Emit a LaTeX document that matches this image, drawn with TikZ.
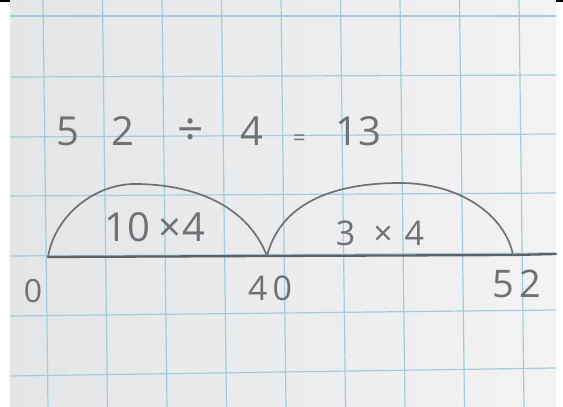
\documentclass[tikz,border=0pt]{standalone}
\usepackage{fontspec}
\setmainfont{Open Sans}
\definecolor{paperl}{RGB}{228,229,231}
\definecolor{paperr}{RGB}{243,243,244}
\definecolor{gridblue}{RGB}{160,205,220}
\definecolor{pencil}{RGB}{112,113,116}
\begin{document}
\begin{tikzpicture}[x=1pt, y=-1pt,
    gridline/.style={gridblue, line width=1.2pt},
    ink/.style={pencil, line width=1.7pt, line cap=round},
    numline/.style={pencil!85!black, line width=2.3pt, line cap=round},
    hand/.style={text=pencil, inner sep=0pt, font=\fontsize{#1}{#1}\selectfont},
    hand/.default=30]
  \useasboundingbox (0,0) rectangle (563,407);

  % paper and squares
  \fill[white] (0,0) rectangle (563,407);
  \shade[left color=paperl, right color=paperr] (10,0) rectangle (556,407);
  \fill[black] (0,0) rectangle (10,1.5);
  \fill[black] (556,0) rectangle (563,1.5);
  \foreach \k in {0,...,8}
    \draw[gridline] ({43+59.5*\k},0) -- ({48+59.5*\k},407);
  \foreach \yl/\yr in {16/16, 77/75, 137/134, 196/193, 256/253, 316/310, 376/368}
    \draw[gridline] (10,\yl) -- (556,\yr);

  % the sum
  \node[hand=40, anchor=base west] (sum) at (56,145)
    {5\hspace{32pt}2\hspace{44pt}{\fontsize{46}{46}\selectfont ÷}\hspace{36pt}4\hspace{30pt}{\fontsize{22}{22}\selectfont =}\hspace{30pt}13};

  % number line
  \coordinate (p0) at (48,257);
  \coordinate (p40) at (267,256);
  \coordinate (p52) at (513,255);
  \coordinate (lineend) at (556,254);
  \draw[numline] (p0) -- (p40) -- (p52) -- (lineend);

  % jumps
  \draw[ink] (p0) .. controls (55,215) and (95,184) .. (135,184)
    .. controls (185,184) and (245,200) .. (p40);
  \draw[ink] (p40) .. controls (280,205) and (330,183) .. (400,183)
    .. controls (460,183) and (505,215) .. (p52);
  \node[hand=40] (jump1) at (155,227) {10\hspace{8pt}×\hspace{1pt}4};
  \node[hand=34] (jump2) at (380,233) {3\hspace{18pt}×\hspace{12pt}4};

  % labels
  \node[hand=32] (lbl0) at (33,291) {0};
  \node[hand=34] (lbl40) at (270,288) {4\hspace{5pt}0};
  \node[hand=38] (lbl52) at (517,284) {5\hspace{6pt}2};
\end{tikzpicture}
\end{document}
